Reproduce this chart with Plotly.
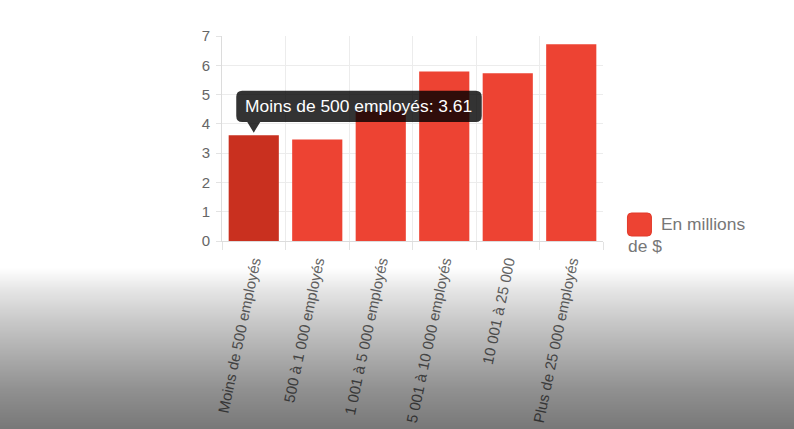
import base64
import struct
import zlib

import plotly.graph_objects as go

# Données
categories = [
    "Moins de 500 employés",
    "500 à 1 000 employés",
    "1 001 à 5 000 employés",
    "5 001 à 10 000 employés",
    "10 001 à 25 000",
    "Plus de 25 000 employés",
]
valeurs = [3.61, 3.47, 4.44, 5.79, 5.73, 6.72]
nom_serie = "En millions de $"
y_ticks = [0, 1, 2, 3, 4, 5, 6, 7]

# Couleurs / police
rouge = "#ed4333"
rouge_survol = "#c9301f"
gris_texte = "#666666"
police = "Liberation Sans, Arial, sans-serif"

W, H = 794, 429
L, R, T, B = 222, 190.5, 36, 188
pw, ph = W - L - R, H - T - B


def px_x(px):
    return (px - L) / pw


def px_y(py):
    return (H - B - py) / ph


# Petite image PNG pour le dégradé sombre du bas (ombre de la vidéo)
def png_degrade(alphas, largeur=4):
    raw = b"".join(b"\x00" + bytes([0, 0, 0, a]) * largeur for a in alphas)

    def chunk(tag, data):
        c = struct.pack(">I", len(data)) + tag + data
        return c + struct.pack(">I", zlib.crc32(tag + data) & 0xFFFFFFFF)

    png = b"\x89PNG\r\n\x1a\n"
    png += chunk(b"IHDR", struct.pack(">IIBBBBB", largeur, len(alphas), 8, 6, 0, 0, 0))
    png += chunk(b"IDAT", zlib.compress(raw, 9))
    png += chunk(b"IEND", b"")
    return "data:image/png;base64," + base64.b64encode(png).decode()


stops = [(268, 0.0), (290, 0.10), (323, 0.22), (357, 0.33), (390, 0.435), (429, 0.53)]


def alpha(py):
    if py <= stops[0][0]:
        return 0.0
    for (a, va), (b, vb) in zip(stops[:-1], stops[1:]):
        if a <= py <= b:
            return va + (vb - va) * (py - a) / (b - a)
    return stops[-1][1]


g_top, g_bas = 262, H + 12
alphas = [round(255 * alpha(p + 0.5)) for p in range(g_top, g_bas)]

fig = go.Figure()
fig.add_trace(go.Bar(
    x=categories,
    y=valeurs,
    name=nom_serie,
    marker=dict(color=[rouge_survol] + [rouge] * (len(valeurs) - 1), line=dict(width=0)),
    hoverinfo="skip",
    showlegend=False,
))

shapes = []

# Bulle d'info (tooltip) au-dessus de la première barre
x0, x1, y0, y1, r = -17.5, 228, 13.3, 44.6, 6
bulle = (
    f"M {x0 + r},{y0} L {x1 - r},{y0} Q {x1},{y0} {x1},{y0 + r} "
    f"L {x1},{y1 - r} Q {x1},{y1} {x1 - r},{y1} L {x0 + r},{y1} "
    f"Q {x0},{y1} {x0},{y1 - r} L {x0},{y0 + r} Q {x0},{y0} {x0 + r},{y0} Z "
    f"M -6.5,{y0} L 0,2.6 L 6.5,{y0} Z"
)
shapes.append(dict(
    type="path", xref="x", yref="y", xsizemode="pixel", ysizemode="pixel",
    xanchor=0, yanchor=valeurs[0], path=bulle,
    fillcolor="rgba(0,0,0,0.8)", line=dict(width=0), layer="above",
))

# Légende : carré arrondi
lx0, lx1, ly0, ly1, lr = 628, 652, 213, 236, 4


def P(a, b):
    return f"{px_x(a)},{px_y(b)}"


carre = (
    f"M {P(lx0 + lr, ly0)} L {P(lx1 - lr, ly0)} Q {P(lx1, ly0)} {P(lx1, ly0 + lr)} "
    f"L {P(lx1, ly1 - lr)} Q {P(lx1, ly1)} {P(lx1 - lr, ly1)} L {P(lx0 + lr, ly1)} "
    f"Q {P(lx0, ly1)} {P(lx0, ly1 - lr)} L {P(lx0, ly0 + lr)} Q {P(lx0, ly0)} {P(lx0 + lr, ly0)} Z"
)
shapes.append(dict(type="path", xref="paper", yref="paper", path=carre,
                   fillcolor=rouge, line=dict(color="#e23a2a", width=1)))

annotations = [
    dict(x=categories[0], y=valeurs[0], xref="x", yref="y", text=f"{categories[0]}: {valeurs[0]}",
         showarrow=False, xanchor="center", yanchor="middle", xshift=105, yshift=29,
         font=dict(family=police, size=17.4, color="white")),
    dict(x=px_x(660), y=px_y(224), xref="paper", yref="paper", text="En millions",
         showarrow=False, xanchor="left", yanchor="middle",
         font=dict(family=police, size=17.4, color="#777777")),
    dict(x=px_x(627), y=px_y(246), xref="paper", yref="paper", text="de $",
         showarrow=False, xanchor="left", yanchor="middle",
         font=dict(family=police, size=17.4, color="#777777")),
]

images = [dict(
    source=png_degrade(alphas), xref="paper", yref="paper",
    x=px_x(-10), y=px_y(g_top), sizex=(W + 20) / pw, sizey=(g_bas - g_top) / ph,
    xanchor="left", yanchor="top", sizing="stretch", layer="above",
)]

fig.update_layout(
    width=W, height=H,
    margin=dict(l=L, r=R, t=T, b=B, pad=0, autoexpand=False),
    paper_bgcolor="white",
    plot_bgcolor="rgba(0,0,0,0)",
    bargap=0.21,
    showlegend=False,
    shapes=shapes,
    annotations=annotations,
    images=images,
    font=dict(family=police, size=15, color=gris_texte),
    xaxis=dict(
        type="category", tickson="boundaries", tickangle=-78,
        automargin=False,
        showgrid=True, gridcolor="#ececec", gridwidth=1,
        ticks="outside", ticklen=8, tickcolor="#e3e3e3",
        ticklabelstandoff=5,
        showline=True, linecolor="#dcdcdc",
        tickfont=dict(family=police, size=15, color=gris_texte),
        fixedrange=True,
    ),
    yaxis=dict(
        range=[0, 7], tickvals=y_ticks,
        automargin=False,
        showgrid=True, gridcolor="#ececec", gridwidth=1,
        ticks="outside", ticklen=5, tickcolor="#e3e3e3",
        ticklabelstandoff=3,
        showline=True, linecolor="#dcdcdc", zeroline=False,
        tickfont=dict(family=police, size=15, color=gris_texte),
        fixedrange=True,
    ),
)

fig.write_html("out.html", config={"displayModeBar": False},
               post_script="document.body.style.margin='0';")
